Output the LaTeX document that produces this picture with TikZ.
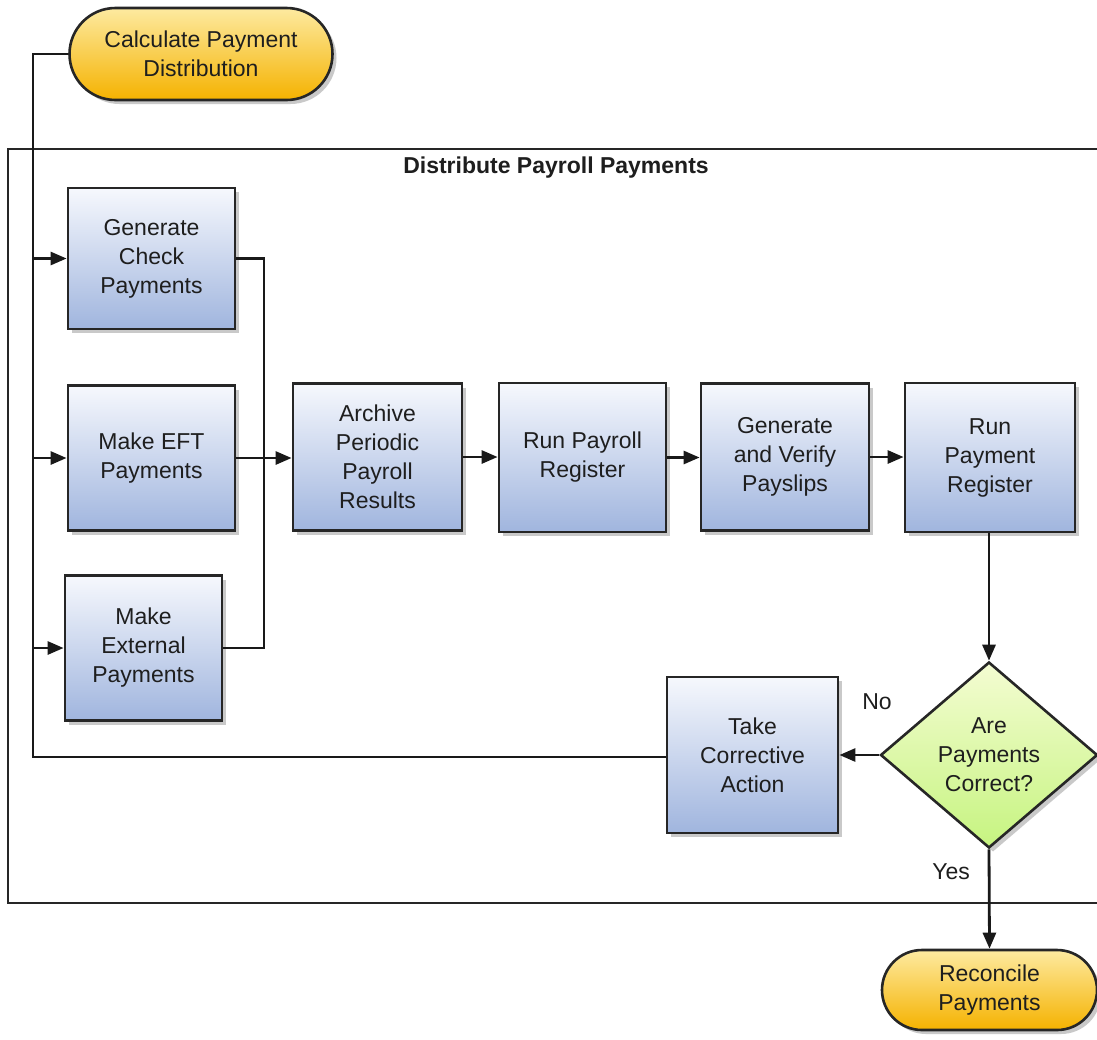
\documentclass[tikz,border=0pt]{standalone}
\usepackage{fontspec}
\setmainfont{Liberation Sans}
\usetikzlibrary{shapes.geometric,shadows,arrows.meta}
\definecolor{boxtop}{RGB}{246,248,253}
\definecolor{boxbot}{RGB}{160,181,222}
\definecolor{termtop}{RGB}{253,234,160}
\definecolor{termbot}{RGB}{245,178,0}
\definecolor{diatop}{RGB}{244,252,210}
\definecolor{diabot}{RGB}{198,244,128}
\definecolor{txt}{RGB}{30,30,30}
\begin{document}
\begin{tikzpicture}[x=1pt,y=-1pt,
  every node/.style={font=\fontsize{23}{29}\selectfont, text=txt, align=center},
  shadowed/.style={drop shadow={opacity=0.35, shadow xshift=4pt, shadow yshift=-4pt, fill=black!60}},
  procbox/.style={draw=black!85, line width=2.8pt, top color=boxtop, bottom color=boxbot, shadowed, inner sep=2pt},
  termbox/.style={draw=black!85, line width=2.6pt, top color=termtop, bottom color=termbot, shadowed,
     minimum height=92pt, rounded corners=46pt},
  decbox/.style={diamond, draw=black!85, line width=2.6pt, top color=diatop, bottom color=diabot, shadowed,
     minimum width=217pt, minimum height=186pt, inner sep=0pt, aspect=1.17},
  conn/.style={draw=black!90, line width=2.8pt},
  arr/.style={conn, -{Triangle[length=16pt,width=13pt]}},
  plain/.style={inner sep=0pt}
]
\useasboundingbox (0,0) rectangle (1097,1039);
\fill[white] (0,0) rectangle (1097,1039);

% frame
\draw[line width=2pt, draw=black!85] (1100,149) -- (8,149) -- (8,903) -- (1100,903);
\node[font=\bfseries\fontsize{23}{29}\selectfont] (title) at (556,168) {Distribute Payroll Payments};

% nodes
\node[termbox, minimum width=263pt] (calc) at (201,54) {Calculate Payment\\Distribution};
\node[procbox, minimum width=167pt, minimum height=141pt] (gen) at (151.5,258.5) {Generate\\Check\\Payments};
\node[procbox, minimum width=167pt, minimum height=145pt] (eft) at (151.5,458) {Make EFT\\Payments};
\node[procbox, minimum width=157pt, minimum height=145pt] (ext) at (143.5,648) {Make\\External\\Payments};
\node[procbox, minimum width=169pt, minimum height=147pt] (arch) at (377.5,457) {Archive\\Periodic\\Payroll\\Results};
\node[procbox, minimum width=167pt, minimum height=149pt] (rpr) at (582.5,457.5) {Run Payroll\\Register};
\node[procbox, minimum width=168pt, minimum height=147pt] (gvp) at (785,457) {Generate\\and Verify\\Payslips};
\node[procbox, minimum width=170pt, minimum height=149pt] (rpm) at (990,457.5) {Run\\Payment\\Register};
\node[decbox] (dec) at (989,755) {Are\\Payments\\Correct?};
\node[procbox, minimum width=171pt, minimum height=156pt] (corr) at (752.5,755) {Take\\Corrective\\Action};
\node[termbox, minimum width=215pt, minimum height=80pt, rounded corners=40pt] (rec) at (989.5,990) {Reconcile\\Payments};

\node[plain] (no) at (877,702) {No};
\node[plain] (yes) at (951,872) {Yes};

% spine
\coordinate (spinetop) at (33,54);
\coordinate (spinebot) at (33,757);
\coordinate (merge) at (264,458);
\draw[conn] (corr.west |- spinebot) -- (spinebot) -- (spinetop) -- (calc.west);
\draw[arr] (spinetop |- gen.west) -- (gen.west);
\draw[arr] (spinetop |- eft.west) -- (eft.west);
\draw[arr] (spinetop |- ext.west) -- (ext.west);

% merge
\draw[conn] (gen.east) -| (merge);
\draw[conn] (ext.east) -| (merge);
\draw[arr] (eft.east) -- (arch.west |- eft.east);

\draw[arr] (arch.east) -- (rpr.west |- arch.east);
\draw[arr] (rpr.east) -- (gvp.west |- rpr.east);
\draw[arr] (gvp.east) -- (rpm.west |- gvp.east);
\draw[arr] (rpm.south -| dec.north) -- (dec.north);
\draw[arr] (dec.west) -- (corr.east);
\draw[arr] (dec.south) -- (rec.north);
\end{tikzpicture}
\end{document}
